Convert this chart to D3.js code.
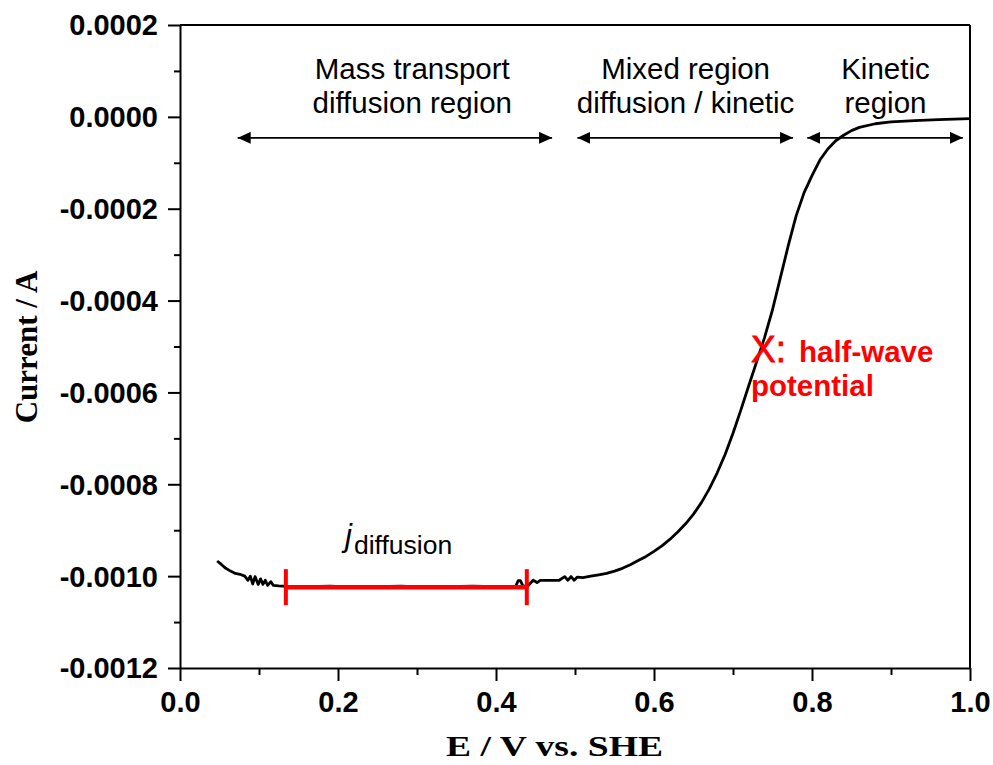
<!DOCTYPE html>
<html>
<head>
<meta charset="utf-8">
<script src="https://cdn.jsdelivr.net/npm/d3@7"></script>
<style>
  html, body { margin: 0; padding: 0; background: #fff; }
  svg { display: block; }
</style>
</head>
<body>
<svg id="chart" width="993" height="765"></svg>
<script>
// Rotating-disk polarisation curve: potential (V vs. SHE) and current (A)
const potential = [
  0.047, 0.052, 0.058, 0.064, 0.070, 0.076, 0.082, 0.086, 0.089, 0.092,
  0.095, 0.099, 0.102, 0.105, 0.108, 0.111, 0.115, 0.118, 0.125, 0.135,
  0.160, 0.190, 0.220, 0.250, 0.280, 0.310, 0.340, 0.370, 0.400, 0.425,
  0.428, 0.431, 0.434, 0.440, 0.447, 0.452, 0.456, 0.470, 0.480, 0.487,
  0.491, 0.495, 0.499, 0.503, 0.510, 0.520, 0.530, 0.540, 0.550, 0.560,
  0.570, 0.580, 0.590, 0.600, 0.610, 0.620, 0.630, 0.640, 0.650, 0.660,
  0.670, 0.680, 0.690, 0.700, 0.710, 0.720, 0.730, 0.740, 0.750, 0.760,
  0.770, 0.780, 0.790, 0.800, 0.810, 0.820, 0.830, 0.840, 0.850, 0.860,
  0.880, 0.900, 0.930, 0.960, 1.000
];
const current = [
  -0.000967, -0.000974, -0.000983, -0.000989, -0.000994, -0.000996, -0.001000, -0.001009, -0.001000, -0.001017,
  -0.001001, -0.001018, -0.001006, -0.001018, -0.001009, -0.001020, -0.001012, -0.001020, -0.001021, -0.001022,
  -0.001023, -0.001022, -0.001024, -0.001023, -0.001022, -0.001024, -0.001023, -0.001022, -0.001023, -0.001022,
  -0.001010, -0.001010, -0.001021, -0.001022, -0.001009, -0.001014, -0.001009, -0.001009, -0.001009, -0.001001,
  -0.001009, -0.001001, -0.001009, -0.001002, -0.001003, -0.001000, -0.000997, -0.000994, -0.000989, -0.000983,
  -0.000975, -0.000966, -0.000957, -0.000946, -0.000934, -0.000920, -0.000904, -0.000886, -0.000865, -0.000840,
  -0.000810, -0.000775, -0.000735, -0.000689, -0.000638, -0.000585, -0.000533, -0.000480, -0.000420, -0.000350,
  -0.000280, -0.000215, -0.000165, -0.000128, -0.000094, -0.000070, -0.000052, -0.000040, -0.000030, -0.000023,
  -0.000015, -0.000011, -0.000008, -0.000006, -0.000004
];

// Axis ticks
const xTickValues = [0.0, 0.2, 0.4, 0.6, 0.8, 1.0];
const xTickLabels = ["0.0", "0.2", "0.4", "0.6", "0.8", "1.0"];
const xMinorTicks = [0.1, 0.3, 0.5, 0.7, 0.9];
const yTickValues = [0.0002, 0.0, -0.0002, -0.0004, -0.0006, -0.0008, -0.0010, -0.0012];
const yTickLabels = ["0.0002", "0.0000", "-0.0002", "-0.0004", "-0.0006", "-0.0008", "-0.0010", "-0.0012"];
const yMinorTicks = [0.0001, -0.0001, -0.0003, -0.0005, -0.0007, -0.0009, -0.0011];

// Region annotations: labels and the potential span of each double arrow
const regionLines = [
  ["Mass transport", "diffusion region"],
  ["Mixed region", "diffusion / kinetic"],
  ["Kinetic", "region"]
];
const regionSpans = [[0.073, 0.471], [0.503, 0.776], [0.794, 0.991]];
const regionLabelCenters = [0.294, 0.640, 0.893];
const arrowCurrent = -0.0000457;

// Diffusion-limited plateau marker
const plateauSpan = [0.134, 0.439];
const plateauCurrent = -0.001024;

const svg = d3.select("#chart");
const margin = { left: 180, right: 23, top: 25, bottom: 97 };
const W = 993, H = 765;

const x = d3.scaleLinear().domain([0, 1]).range([margin.left, W - margin.right]);
const y = d3.scaleLinear().domain([-0.0012, 0.0002]).range([H - margin.bottom, margin.top]);

const sans = "'Liberation Sans', Arial, Helvetica, sans-serif";
const serif = "'Liberation Serif', 'Times New Roman', serif";

// Frame (top and right edges)
svg.append("line")
  .attr("x1", x(0)).attr("x2", x(1)).attr("y1", y(0.0002)).attr("y2", y(0.0002))
  .attr("stroke", "#000").attr("stroke-width", 2);
svg.append("line")
  .attr("x1", x(1)).attr("x2", x(1)).attr("y1", y(0.0002)).attr("y2", y(-0.0012))
  .attr("stroke", "#000").attr("stroke-width", 2);

// X axis
const xAxis = d3.axisBottom(x)
  .tickValues(xTickValues)
  .tickFormat((d, i) => xTickLabels[i])
  .tickSize(13).tickSizeOuter(0).tickPadding(10);
const gx = svg.append("g").attr("transform", `translate(0,${y(-0.0012)})`).call(xAxis);
svg.append("g").attr("transform", `translate(0,${y(-0.0012)})`)
  .call(d3.axisBottom(x).tickValues(xMinorTicks).tickFormat("").tickSize(7).tickSizeOuter(0))
  .select(".domain").remove();

// Y axis
const yAxis = d3.axisLeft(y)
  .tickValues(yTickValues)
  .tickFormat((d, i) => yTickLabels[i])
  .tickSize(12).tickSizeOuter(0).tickPadding(10);
const gy = svg.append("g").attr("transform", `translate(${x(0)},0)`).call(yAxis);
svg.append("g").attr("transform", `translate(${x(0)},0)`)
  .call(d3.axisLeft(y).tickValues(yMinorTicks).tickFormat("").tickSize(6).tickSizeOuter(0))
  .select(".domain").remove();

svg.selectAll(".domain").attr("stroke-width", 2);
svg.selectAll(".tick line").attr("stroke-width", 2);
[gx, gy].forEach(g => g.selectAll(".tick text")
  .attr("font-family", sans).attr("font-weight", "bold").attr("font-size", 29).attr("fill", "#000"));
gx.selectAll(".tick text").attr("dy", "0.72em");
gy.selectAll(".tick text").attr("dy", "0.34em");

// Axis titles
svg.append("text")
  .attr("x", 446).attr("y", 756)
  .attr("font-family", serif).attr("font-weight", "bold").attr("font-size", 30)
  .attr("textLength", 217).attr("lengthAdjust", "spacingAndGlyphs")
  .text("E / V vs. SHE");
svg.append("text")
  .attr("transform", "translate(37,347) rotate(-90)")
  .attr("text-anchor", "middle")
  .attr("font-family", serif).attr("font-weight", "bold").attr("font-size", 31)
  .text("Current / A");

// Polarisation curve
const pts = potential.map((e, i) => [e, current[i]]);
svg.append("path")
  .datum(pts)
  .attr("fill", "none").attr("stroke", "#000").attr("stroke-width", 2.8)
  .attr("stroke-linejoin", "round")
  .attr("d", d3.line().x(d => x(d[0])).y(d => y(d[1])));

// Plateau bar with end caps
const capHalf = 18;
svg.append("line")
  .attr("x1", x(plateauSpan[0])).attr("x2", x(plateauSpan[1]))
  .attr("y1", y(plateauCurrent)).attr("y2", y(plateauCurrent))
  .attr("stroke", "#ff0000").attr("stroke-width", 4.5);
plateauSpan.forEach(e => {
  svg.append("line")
    .attr("x1", x(e)).attr("x2", x(e))
    .attr("y1", y(plateauCurrent) - capHalf).attr("y2", y(plateauCurrent) + capHalf)
    .attr("stroke", "#ff0000").attr("stroke-width", 4);
});

// j_diffusion label
const jl = svg.append("text")
  .attr("x", 345).attr("y", 546)
  .attr("font-family", sans).attr("fill", "#000");
jl.append("tspan").attr("font-style", "italic").attr("font-size", 31).text("j");
jl.append("tspan").attr("font-size", 26.5).attr("dx", 2).attr("dy", 8).text("diffusion");

// Double-headed arrows
const defs = svg.append("defs");
["start", "end"].forEach(kind => {
  defs.append("marker")
    .attr("id", "head-" + kind)
    .attr("viewBox", "0 0 13 12")
    .attr("refX", kind === "end" ? 13 : 0).attr("refY", 6)
    .attr("markerWidth", 13).attr("markerHeight", 12)
    .attr("markerUnits", "userSpaceOnUse")
    .attr("orient", "auto")
    .append("path")
    .attr("d", kind === "end" ? "M0,0 L13,6 L0,12 Z" : "M13,0 L0,6 L13,12 Z")
    .attr("fill", "#000");
});
regionSpans.forEach(s => {
  svg.append("line")
    .attr("x1", x(s[0])).attr("x2", x(s[1]))
    .attr("y1", y(arrowCurrent)).attr("y2", y(arrowCurrent))
    .attr("stroke", "#000").attr("stroke-width", 1.8)
    .attr("marker-start", "url(#head-start)")
    .attr("marker-end", "url(#head-end)");
});

// Region labels
regionLines.forEach((lines, i) => {
  lines.forEach((t, j) => {
    svg.append("text")
      .attr("x", x(regionLabelCenters[i])).attr("y", 79 + j * 34)
      .attr("text-anchor", "middle")
      .attr("font-family", sans).attr("font-size", 29.5).attr("fill", "#000")
      .text(t);
  });
});

// Half-wave potential annotation
const hw = svg.append("text")
  .attr("x", 751).attr("y", 362)
  .attr("font-family", sans).attr("fill", "#ff0000");
hw.append("tspan").attr("font-size", 37).attr("stroke", "#ff0000").attr("stroke-width", 0.8).text("X:");
hw.append("tspan").attr("font-size", 29.5).attr("font-weight", "bold").attr("dx", 13).text("half-wave");
svg.append("text")
  .attr("x", 751).attr("y", 396)
  .attr("font-family", sans).attr("font-size", 29.5).attr("font-weight", "bold").attr("fill", "#ff0000")
  .text("potential");
</script>
</body>
</html>
